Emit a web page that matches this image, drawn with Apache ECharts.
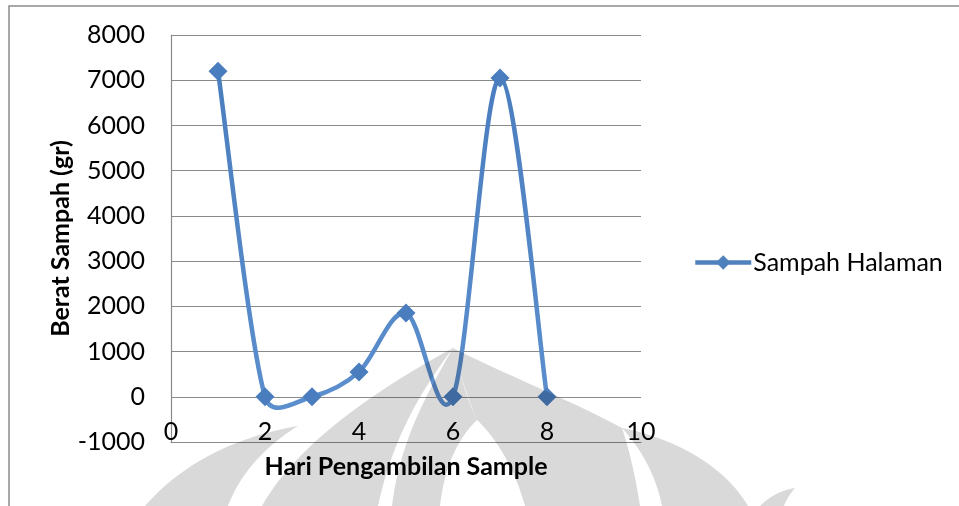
<!DOCTYPE html>
<html>
<head>
<meta charset="utf-8">
<script src="https://cdn.jsdelivr.net/npm/echarts@6/dist/echarts.min.js"></script>
<style>
  html, body { margin: 0; padding: 0; background: #ffffff; }
  #chart { width: 959px; height: 506px; }
</style>
</head>
<body>
<div id="chart"></div>
<script>
// Sampling day and weight of yard waste collected (grams)
const days = [1, 2, 3, 4, 5, 6, 7, 8];
const weights = [7200, 0, 0, 550, 1850, 0, 7050, 0];
const seriesName = 'Sampah Halaman';
const xTitle = 'Hari Pengambilan Sample';
const yTitle = 'Berat Sampah (gr)';

const FONT = 'Lato, "Open Sans", sans-serif';
const GRID_GRAY = '#8a8a8a';
const BLUE = '#4f81bd';

// Blue that lightens slightly toward the bottom of the plot
const blueShade = new echarts.graphic.LinearGradient(0, 60, 0, 420, [
  { offset: 0, color: '#4a7dbd' },
  { offset: 1, color: '#5b8fce' }
], true);

// Spreadsheet-style smoothed segment: cubic Bezier whose handles are 1/6 of
// the neighbour chord, capped at half the segment length.
function dist(a, b) { return Math.hypot(a[0] - b[0], a[1] - b[1]); }
function segmentControls(p0, p1, p2, p3) {
  const d12 = dist(p1, p2);
  const d02 = dist(p0, p2);
  const d13 = dist(p1, p3);
  let f0 = 1 / 6, f1 = 1 / 6;
  if (d02 / 6 >= d12 / 2 && d02 > 0) f0 = d12 / 2 / d02;
  if (d13 / 6 >= d12 / 2 && d13 > 0) f1 = d12 / 2 / d13;
  return [
    [p1[0] + f0 * (p2[0] - p0[0]), p1[1] + f0 * (p2[1] - p0[1])],
    [p2[0] - f1 * (p3[0] - p1[0]), p2[1] - f1 * (p3[1] - p1[1])]
  ];
}

function renderSmoothSegment(params, api) {
  const i = params.dataIndex;
  const n = days.length;
  if (i >= n - 1) return null;
  const pt = j => api.coord([days[j], weights[j]]);
  const p1 = pt(i), p2 = pt(i + 1);
  const p0 = i > 0 ? pt(i - 1) : p1;
  const p3 = i + 2 < n ? pt(i + 2) : p2;
  const c = segmentControls(p0, p1, p2, p3);
  return {
    type: 'bezierCurve',
    shape: {
      x1: p1[0], y1: p1[1], x2: p2[0], y2: p2[1],
      cpx1: c[0][0], cpy1: c[0][1], cpx2: c[1][0], cpy2: c[1][1]
    },
    style: { stroke: blueShade, lineWidth: 4.5, fill: null, lineCap: 'round' }
  };
}

// Faint emblem in the lower half of the page (multiplied over the chart).
// Each outline: start point, then cubic [c1, c2, end] or straight [end] steps.
const emblemFill = '#d9d9d9';
const emblemOutlines = [
  // far-left sweep
  [[145, 506], [[180, 466], [230, 438], [298, 426]], [[265, 446], [240, 474], [228, 506]]],
  // left layer of the dome
  [[262, 506], [[295, 446], [372, 392], [453, 348]], [[420, 392], [392, 440], [378, 506]]],
  // dome core, left of the inner spire
  [[392, 506], [[400, 440], [428, 392], [453, 348]], [[462, 380], [468, 402], [477, 420]], [[456, 440], [444, 470], [440, 506]]],
  // right body of the dome
  [[453, 348], [[500, 372], [570, 400], [622, 428]], [[630, 452], [636, 480], [640, 506]], [[525, 506]], [[515, 470], [498, 440], [477, 420]], [[468, 400], [460, 372], [453, 348]]],
  // right crescent
  [[622, 428], [[682, 440], [727, 470], [748, 506]], [[662, 506]], [[656, 476], [642, 450], [622, 428]]],
  // bottom-right fragment
  [[760, 506], [[770, 496], [782, 490], [795, 488]], [[790, 494], [786, 500], [784, 506]]]
];

function outlineToPoints(outline) {
  const pts = [outline[0]];
  let cur = outline[0];
  for (let k = 1; k < outline.length; k++) {
    const step = outline[k];
    if (step.length === 1) {
      cur = step[0];
      pts.push(cur);
    } else {
      const [a, b, e] = step;
      for (let s = 1; s <= 24; s++) {
        const t = s / 24, u = 1 - t;
        pts.push([
          u * u * u * cur[0] + 3 * u * u * t * a[0] + 3 * u * t * t * b[0] + t * t * t * e[0],
          u * u * u * cur[1] + 3 * u * u * t * a[1] + 3 * u * t * t * b[1] + t * t * t * e[1]
        ]);
      }
      cur = e;
    }
  }
  return pts;
}

const chart = echarts.init(document.getElementById('chart'), null, { renderer: 'canvas' });

chart.setOption({
  backgroundColor: '#ffffff',
  animation: false,
  textStyle: { fontFamily: FONT, color: '#000' },
  grid: { left: 171, right: 318, top: 35, bottom: 64, containLabel: false },
  legend: {
    left: 693,
    top: 250,
    padding: 0,
    itemWidth: 56,
    itemHeight: 18,
    itemGap: 0,
    textStyle: { fontFamily: FONT, fontSize: 25, color: '#000', padding: [0, 0, 0, -3] },
    data: [{
      name: seriesName,
      lineStyle: { color: BLUE, width: 4.5, opacity: 1 },
      itemStyle: { color: BLUE }
    }]
  },
  xAxis: {
    type: 'value',
    min: 0,
    max: 10,
    interval: 2,
    name: xTitle,
    nameLocation: 'middle',
    nameGap: 12,
    nameTextStyle: { fontFamily: FONT, fontSize: 25, fontWeight: 'bold', color: '#000' },
    axisLine: { show: true, onZero: false, lineStyle: { color: GRID_GRAY, width: 1.2 } },
    axisTick: { show: false },
    splitLine: { show: false },
    axisLabel: { fontFamily: FONT, fontSize: 25, color: '#000', margin: -23, formatter: v => String(v) }
  },
  yAxis: {
    type: 'value',
    min: -1000,
    max: 8000,
    interval: 1000,
    name: yTitle,
    nameLocation: 'middle',
    nameRotate: 90,
    nameGap: 97,
    nameTextStyle: { fontFamily: FONT, fontSize: 25, fontWeight: 'bold', color: '#000' },
    axisLine: { show: true, lineStyle: { color: GRID_GRAY, width: 1.2 } },
    axisTick: { show: false },
    splitLine: { show: true, lineStyle: { color: GRID_GRAY, width: 1.2 } },
    axisLabel: { fontFamily: FONT, fontSize: 25, color: '#000', margin: 26, formatter: v => String(v) }
  },
  graphic: [
    {
      type: 'polyline',
      silent: true,
      z: 100,
      shape: { points: [[9, 506], [9, 6], [959, 6]] },
      style: { stroke: '#8c8c8c', lineWidth: 1.5, fill: null }
    }
  ].concat(emblemOutlines.map(o => ({
    type: 'polygon',
    silent: true,
    z: 200,
    shape: { points: outlineToPoints(o) },
    style: { fill: emblemFill, stroke: null, blend: 'multiply' }
  }))),
  series: [
    {
      name: 'curve',
      type: 'custom',
      renderItem: renderSmoothSegment,
      data: days.map((d, i) => [d, weights[i]]),
      z: 2,
      silent: true
    },
    {
      name: seriesName,
      type: 'line',
      data: days.map((d, i) => [d, weights[i]]),
      symbol: 'diamond',
      symbolSize: 19,
      lineStyle: { opacity: 0 },
      itemStyle: { color: blueShade, opacity: 1 },
      z: 3
    }
  ]
});
</script>
</body>
</html>
